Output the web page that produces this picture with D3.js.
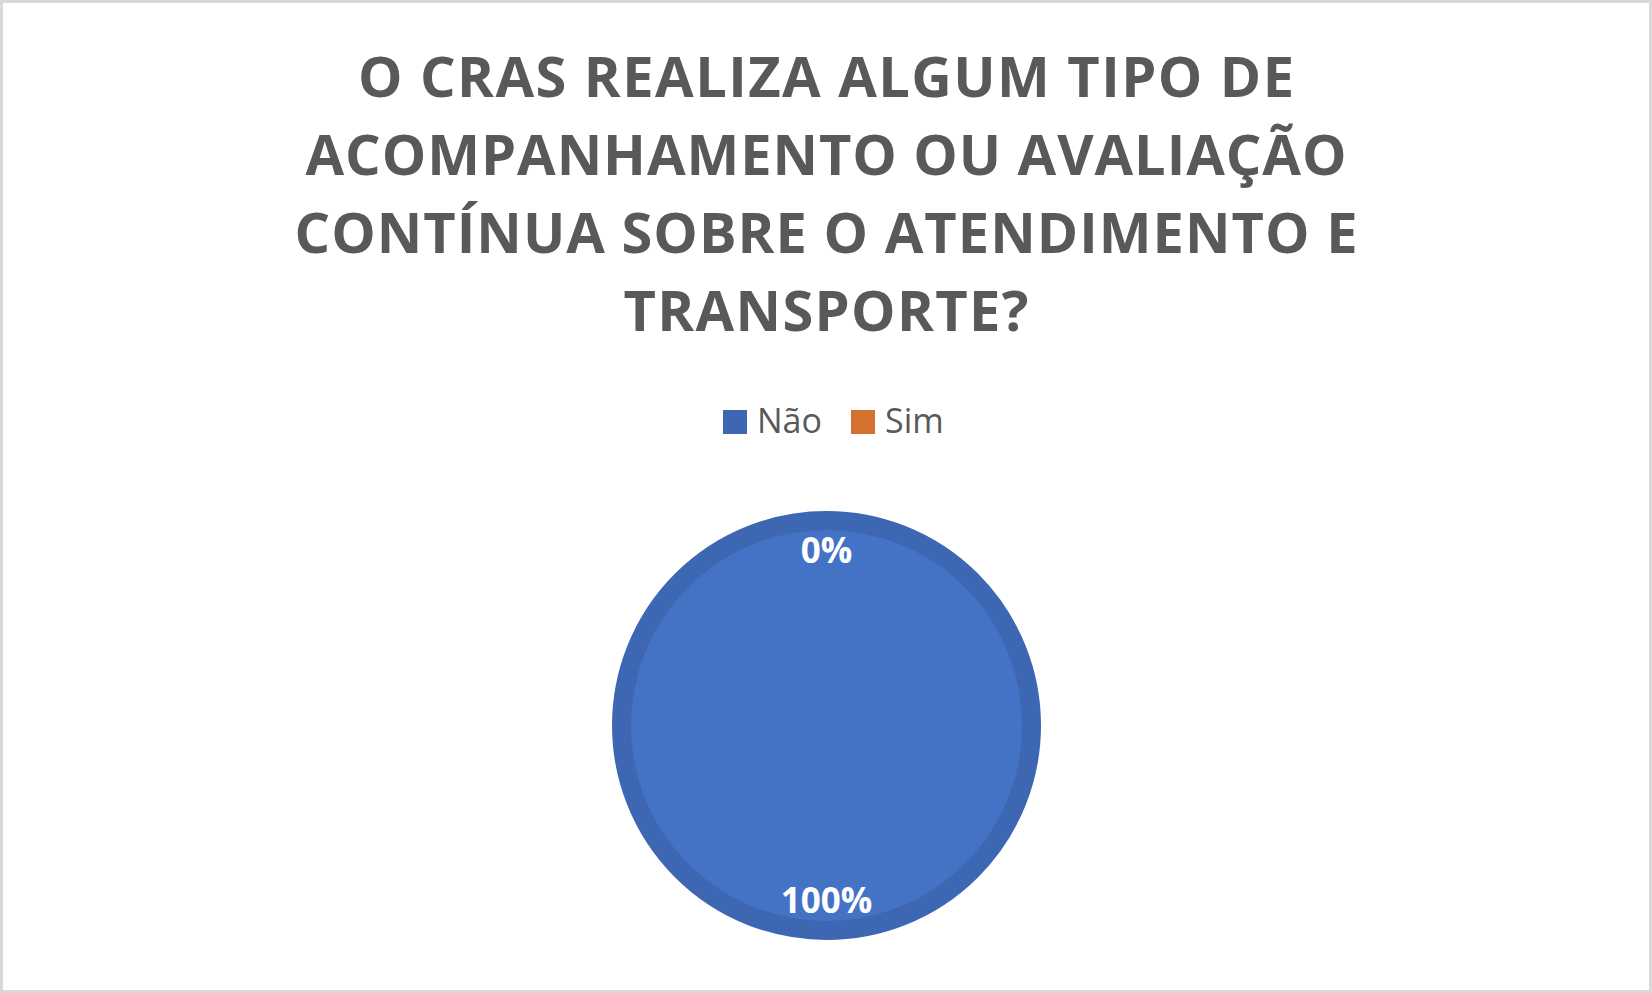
<!DOCTYPE html>
<html>
<head>
<meta charset="utf-8">
<script src="https://cdn.jsdelivr.net/npm/d3@7"></script>
<style>
  html, body { margin: 0; padding: 0; background: #fff; }
  svg { display: block; }
</style>
</head>
<body>
<svg id="chart" width="1652" height="993"></svg>
<script>
const titleLines = [
  "O CRAS REALIZA ALGUM TIPO DE",
  "ACOMPANHAMENTO OU AVALIAÇÃO",
  "CONTÍNUA SOBRE O ATENDIMENTO E",
  "TRANSPORTE?"
];
const categories = ["Não", "Sim"];
const values = [100, 0];
const colors = ["#4472c4", "#ed7d31"];
const strokeColors = ["#3d67b2", "#d6712d"];
const labelText = ["100%", "0%"];

const W = 1652, H = 993;
const svg = d3.select("#chart");

// frame
svg.append("rect")
  .attr("x", 1.5).attr("y", 1.5)
  .attr("width", W - 3).attr("height", H - 3)
  .attr("fill", "#fff")
  .attr("stroke", "#d9d9d9")
  .attr("stroke-width", 3);

// title
const titleWidths = [936, 1041, 1063, 405];
const title = svg.append("g");
titleLines.forEach((t, i) => {
  title.append("text")
    .attr("x", 826)
    .attr("y", 97 + i * 78)
    .attr("text-anchor", "middle")
    .attr("font-family", "'Open Sans', sans-serif")
    .attr("font-weight", "bold")
    .attr("font-size", 56)
    .attr("fill", "#595959")
    .attr("textLength", titleWidths[i])
    .attr("lengthAdjust", "spacing")
    .text(t);
});

// legend
const color = d3.scaleOrdinal().domain(categories).range(colors);
const keyColor = d3.scaleOrdinal().domain(categories).range(strokeColors);
const legend = svg.append("g");
const legendX = [723, 851];
categories.forEach((c, i) => {
  const g = legend.append("g").attr("transform", `translate(${legendX[i]},410)`);
  g.append("rect").attr("width", 24).attr("height", 24).attr("fill", keyColor(c));
  g.append("text")
    .attr("x", 34).attr("y", 23)
    .attr("font-family", "'Open Sans', sans-serif")
    .attr("font-size", 34)
    .attr("fill", "#595959")
    .text(c);
});

// pie
const cx = 826.5, cy = 725.5, R = 214.5, ringW = 19;
const pie = d3.pie().sort(null).value(d => d.v);
const data = categories.map((c, i) => ({ c, v: values[i], i }));
const arcs = pie(data);
const arc = d3.arc().innerRadius(0).outerRadius(R - ringW / 2);
const gp = svg.append("g").attr("transform", `translate(${cx},${cy})`);
gp.selectAll("path.slice")
  .data(arcs.filter(a => a.data.v > 0))
  .join("path")
  .attr("class", "slice")
  .attr("d", arc)
  .attr("fill", d => color(d.data.c))
  .attr("stroke", d => keyColor(d.data.c))
  .attr("stroke-width", ringW);

// labels
gp.selectAll("text.lbl")
  .data(arcs)
  .join("text")
  .attr("class", "lbl")
  .attr("transform", d => {
    const mid = (d.startAngle + d.endAngle) / 2;
    const p = [Math.sin(mid) * 175, -Math.cos(mid) * 175];
    return `translate(${p[0]},${p[1]})`;
  })
  .attr("text-anchor", "middle")
  .attr("dy", "0.36em")
  .attr("font-family", "'Open Sans', sans-serif")
  .attr("font-weight", "bold")
  .attr("font-size", 35)
  .attr("fill", "#ffffff")
  .text((d, i) => labelText[i]);
</script>
</body>
</html>
